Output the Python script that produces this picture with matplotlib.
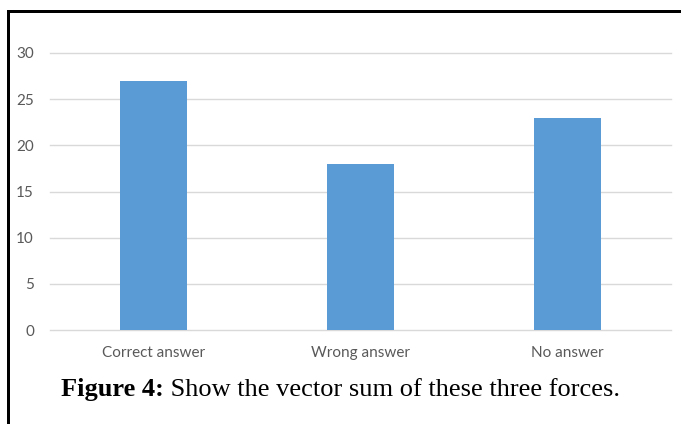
import matplotlib
matplotlib.use("Agg")
import matplotlib.pyplot as plt
from matplotlib.lines import Line2D

categories = ["Correct answer", "Wrong answer", "No answer"]
counts = [27, 18, 23]
y_ticks = [0, 5, 10, 15, 20, 25, 30]

W, H = 681, 424
fig = plt.figure(figsize=(W / 100, H / 100), dpi=100)
fig.patch.set_facecolor("white")

# plot area in pixel terms
left, right, top, bottom = 50, 671, 53, 330
ax = fig.add_axes([left / W, (H - bottom) / H, (right - left) / W, (bottom - top) / H])

x = list(range(len(categories)))
ax.bar(x, counts, width=0.32, color="#5B9BD5", zorder=3)
ax.set_xlim(-0.5, len(categories) - 0.5)
ax.set_ylim(0, 30)
ax.set_yticks(y_ticks)
ax.set_xticks(x)
ax.set_xticklabels(categories)

for y in y_ticks:
    ax.axhline(y, color="#D9D9D9", linewidth=1.0, zorder=1, clip_on=False)

for s in ax.spines.values():
    s.set_visible(False)
ax.tick_params(axis="both", length=0, colors="#595959", labelsize=11)
ax.tick_params(axis="y", pad=11.5)
ax.tick_params(axis="x", pad=16.5)
for lbl in ax.get_xticklabels():
    lbl.set_fontfamily("Lato")
    lbl.set_verticalalignment("center")
for lbl in ax.get_yticklabels():
    lbl.set_fontfamily("Lato")

# caption
t1 = fig.text(61 / W, (H - 396) / H, "Figure 4:", fontfamily="Liberation Serif",
              fontweight="bold", fontsize=19, va="baseline", ha="left")
plt.annotate(" Show the vector sum of these three forces.", xy=(1, 0), xycoords=t1,
             va="bottom", ha="left", fontfamily="Liberation Serif", fontsize=19,
             annotation_clip=False)

# frame lines
lw = 3 * 72 / 100
fig.add_artist(Line2D([7.5 / W, 7.5 / W], [0, (H - 10.5) / H], transform=fig.transFigure,
                      color="black", linewidth=lw, solid_capstyle="projecting"))
fig.add_artist(Line2D([7.5 / W, 1.0], [(H - 10.5) / H, (H - 10.5) / H], transform=fig.transFigure,
                      color="black", linewidth=lw, solid_capstyle="projecting"))

fig.savefig("out.png", dpi=100)
